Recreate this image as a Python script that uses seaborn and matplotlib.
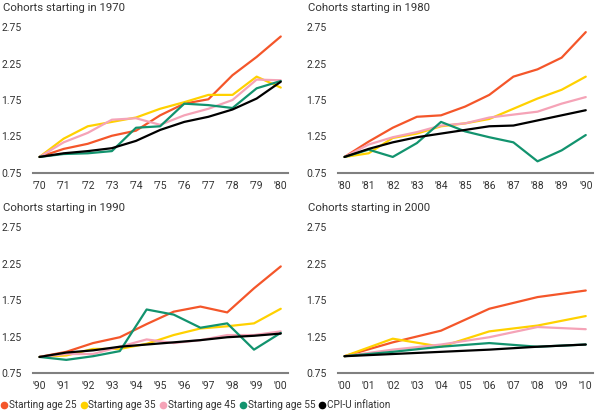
import matplotlib
matplotlib.use('Agg')
import matplotlib.pyplot as plt
from matplotlib.lines import Line2D
import seaborn as sns
import pandas as pd

# Series names and colours
series = ['Starting age 25', 'Starting age 35', 'Starting age 45', 'Starting age 55', 'CPI-U inflation']
colors = ['#F4562A', '#FFD100', '#F5A3B7', '#12936E', '#000000']

# Cohorts starting in 1970 (yearly)
years_1970 = [1970, 1971, 1972, 1973, 1974, 1975, 1976, 1977, 1978, 1979, 1980]
age25_1970 = [0.97, 1.08, 1.15, 1.26, 1.33, 1.54, 1.70, 1.76, 2.09, 2.34, 2.62]
age35_1970 = [0.97, 1.22, 1.39, 1.45, 1.51, 1.63, 1.72, 1.82, 1.82, 2.07, 1.92]
age45_1970 = [0.97, 1.17, 1.30, 1.48, 1.50, 1.41, 1.54, 1.63, 1.75, 2.03, 2.02]
age55_1970 = [0.97, 1.01, 1.02, 1.05, 1.37, 1.39, 1.70, 1.68, 1.64, 1.91, 2.01]
cpi_1970 = [0.97, 1.02, 1.05, 1.09, 1.19, 1.34, 1.45, 1.52, 1.62, 1.77, 2.00]

# Cohorts starting in 1980 (yearly)
years_1980 = [1980, 1981, 1982, 1983, 1984, 1985, 1986, 1987, 1988, 1989, 1990]
age25_1980 = [0.97, 1.18, 1.37, 1.52, 1.54, 1.66, 1.82, 2.07, 2.17, 2.33, 2.68]
age35_1980 = [0.97, 1.02, 1.23, 1.29, 1.39, 1.43, 1.49, 1.63, 1.77, 1.89, 2.07]
age45_1980 = [0.97, 1.14, 1.24, 1.31, 1.40, 1.43, 1.51, 1.55, 1.59, 1.70, 1.79]
age55_1980 = [0.97, 1.07, 0.97, 1.16, 1.45, 1.32, 1.24, 1.17, 0.91, 1.06, 1.27]
cpi_1980 = [0.97, 1.08, 1.17, 1.24, 1.29, 1.34, 1.39, 1.40, 1.47, 1.54, 1.61]

# Cohorts starting in 1990 (10 evenly spaced points)
years_1990 = [1990.0, 1991.11, 1992.22, 1993.33, 1994.44, 1995.56, 1996.67, 1997.78, 1998.89, 2000.0]
age25_1990 = [0.97, 1.04, 1.16, 1.24, 1.42, 1.59, 1.66, 1.58, 1.91, 2.21]
age35_1990 = [0.97, 0.99, 1.08, 1.08, 1.15, 1.27, 1.36, 1.39, 1.43, 1.63]
age45_1990 = [0.97, 1.01, 1.01, 1.11, 1.21, 1.16, 1.20, 1.27, 1.27, 1.32]
age55_1990 = [0.97, 0.93, 0.98, 1.05, 1.62, 1.55, 1.37, 1.43, 1.07, 1.30]
cpi_1990 = [0.97, 1.03, 1.06, 1.11, 1.14, 1.17, 1.20, 1.24, 1.26, 1.29]

# Cohorts starting in 2000 (every two years)
years_2000 = [2000, 2002, 2004, 2006, 2008, 2010]
age25_2000 = [0.98, 1.17, 1.33, 1.63, 1.79, 1.88]
age35_2000 = [0.98, 1.22, 1.11, 1.32, 1.40, 1.53]
age45_2000 = [0.98, 1.07, 1.14, 1.24, 1.38, 1.35]
age55_2000 = [0.98, 1.04, 1.11, 1.16, 1.11, 1.14]
cpi_2000 = [0.98, 1.01, 1.04, 1.07, 1.11, 1.14]

yticks = [0.75, 1.25, 1.75, 2.25, 2.75]

panels = [
    ('Cohorts starting in 1970', 1970, years_1970, [age25_1970, age35_1970, age45_1970, age55_1970, cpi_1970]),
    ('Cohorts starting in 1980', 1980, years_1980, [age25_1980, age35_1980, age45_1980, age55_1980, cpi_1980]),
    ('Cohorts starting in 1990', 1990, years_1990, [age25_1990, age35_1990, age45_1990, age55_1990, cpi_1990]),
    ('Cohorts starting in 2000', 2000, years_2000, [age25_2000, age35_2000, age45_2000, age55_2000, cpi_2000]),
]

sns.set_style('white')
plt.rcParams['font.family'] = ['Roboto', 'DejaVu Sans']

W, H = 600, 415
fig = plt.figure(figsize=(6, 4.15), dpi=100)

# pixel layout: (left, bottom spine y, title x, title y)
lefts = [33, 338, 33, 338]
bottoms = [173, 173, 373, 373]
title_pos = [(3, 8), (308, 8), (3, 208), (308, 208)]
ylo, yhi = 0.75, 2.80
px_per_unit = 73.0
ax_h = (yhi - ylo) * px_per_unit

for i, (title, start, years, vals) in enumerate(panels):
    l, b = lefts[i], bottoms[i]
    ax = fig.add_axes([l / W, (H - b) / H, 255 / W, ax_h / H])
    rows = []
    for name, v in zip(series, vals):
        for x, y in zip(years, v):
            rows.append({'year': x, 'value': y, 'series': name})
    df = pd.DataFrame(rows)
    sns.lineplot(data=df, x='year', y='value', hue='series', hue_order=series,
                 palette=colors, ax=ax, legend=False, linewidth=1.6)
    ax.set_xlim(start - 0.27, start + 10.3)
    ax.set_ylim(ylo, yhi)
    ax.set_yticks(yticks)
    ax.set_yticklabels([f'{t:.2f}' for t in yticks])
    xt = list(range(start, start + 11))
    ax.set_xticks(xt)
    ax.set_xticklabels(["'" + str(t)[2:] for t in xt])
    ax.tick_params(axis='both', length=0, labelsize=7.5, colors='#333333')
    ax.tick_params(axis='y', pad=8)
    ax.tick_params(axis='x', pad=6)
    ax.set_xlabel('')
    ax.set_ylabel('')
    for s in ['top', 'right', 'left']:
        ax.spines[s].set_visible(False)
    ax.spines['bottom'].set_color('#808080')
    ax.spines['bottom'].set_linewidth(1.5)
    ax.patch.set_alpha(0)
    tx, ty = title_pos[i]
    fig.text(tx / W, (H - ty) / H, title, fontsize=8.2, color='#333333', va='center', ha='left')

handles = [Line2D([], [], marker='o', linestyle='', color=c, markersize=4.5) for c in colors]
fig.legend(handles, series, loc='center left', bbox_to_anchor=(0.0, (H - 405) / H), ncol=5,
           frameon=False, fontsize=7.2, handletextpad=0.1, columnspacing=0.3, handlelength=0.8,
           borderaxespad=0, borderpad=0, labelcolor='#333333')

fig.savefig('out.png', dpi=100)
